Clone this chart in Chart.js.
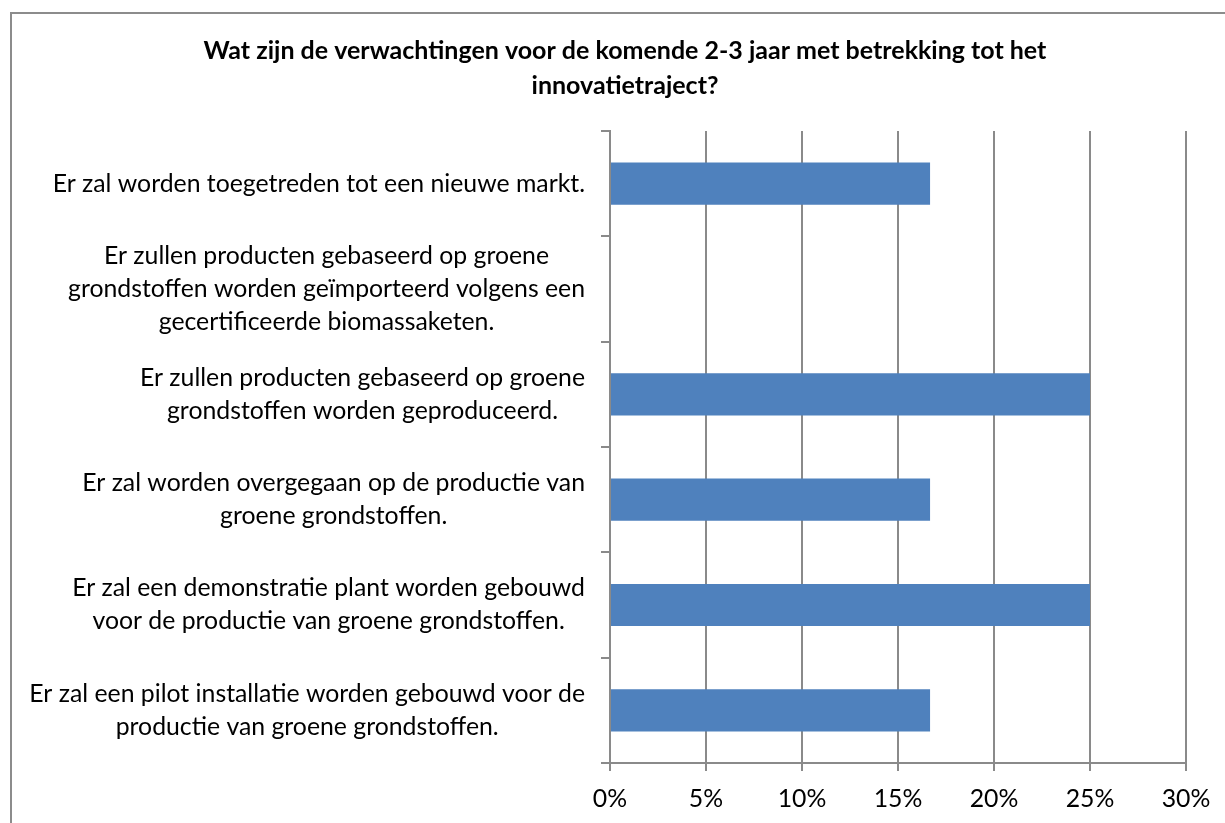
<!DOCTYPE html>
<html>
<head>
<meta charset="utf-8">
<script src="https://cdn.jsdelivr.net/npm/chart.js@4/dist/chart.umd.min.js"></script>
<style>
  html, body { margin: 0; padding: 0; background: #fff; }
  #wrap { position: absolute; left: 0; top: 0; width: 1225px; height: 823px; overflow: hidden; }
  #frame { position: absolute; left: 10px; top: 12px; width: 1400px; height: 1000px; border: 2px solid #8c8c8c; box-sizing: border-box; }
  canvas { position: absolute; left: 0; top: 0; }
</style>
</head>
<body>
<div id="wrap">
  <div id="frame"></div>
  <canvas id="c" width="1225" height="823"></canvas>
</div>
<script>
const titleLines = [
  "Wat zijn de verwachtingen voor de komende 2-3 jaar met betrekking tot het",
  "innovatietraject?"
];
const categories = [
  ["Er zal worden toegetreden tot een nieuwe markt."],
  ["Er zullen producten gebaseerd op groene", "grondstoffen worden geïmporteerd volgens een", "gecertificeerde biomassaketen."],
  ["Er zullen producten gebaseerd op groene", "grondstoffen worden geproduceerd."],
  ["Er zal worden overgegaan op de productie van", "groene grondstoffen."],
  ["Er zal een demonstratie plant worden gebouwd", "voor de productie van groene grondstoffen."],
  ["Er zal een pilot installatie worden gebouwd voor de", "productie van groene grondstoffen."]
];
const values = [16.67, 0, 25, 16.67, 25, 16.67];
const xMin = 0, xMax = 30, xStep = 5;

const FONT = "Lato, 'Open Sans', sans-serif";
const GRID = '#8a8a8a';

const customText = {
  id: 'customText',
  afterDraw(chart) {
    const ctx = chart.ctx;
    const y = chart.scales.y;
    ctx.save();
    ctx.fillStyle = '#000';
    // title
    ctx.font = "bold 25px " + FONT;
    ctx.textAlign = 'center';
    ctx.textBaseline = 'middle';
    ctx.fillText(titleLines[0], 625, 51);
    ctx.fillText(titleLines[1], 625, 86);
    // category labels
    ctx.font = "24.8px " + FONT;
    const lh = 33;
    const right = 585;
    categories.forEach((lines, i) => {
      const cy = y.getPixelForValue(i);
      let maxW = 0;
      lines.forEach(l => { maxW = Math.max(maxW, ctx.measureText(l).width); });
      const cx = right - maxW / 2;
      const y0 = cy - (lines.length - 1) * lh / 2;
      lines.forEach((l, k) => ctx.fillText(l, cx, y0 + k * lh));
    });
    ctx.restore();
  }
};

new Chart(document.getElementById('c'), {
  type: 'bar',
  data: {
    labels: categories.map(c => c.join(' ')),
    datasets: [{
      data: values,
      backgroundColor: '#4f81bd',
      borderWidth: 0,
      barPercentage: 0.4,
      categoryPercentage: 1.0
    }]
  },
  options: {
    indexAxis: 'y',
    responsive: false,
    animation: false,
    devicePixelRatio: 1,
    layout: { padding: { left: 0, right: 39, top: 131, bottom: 0 } },
    plugins: { legend: { display: false }, title: { display: false }, tooltip: { enabled: false } },
    scales: {
      x: {
        type: 'linear',
        min: xMin, max: xMax,
        ticks: {
          stepSize: xStep,
          callback: v => v + '%',
          color: '#000',
          font: { family: FONT, size: 24.8 },
          padding: 13
        },
        grid: { color: GRID, lineWidth: 2, tickLength: 8, drawTicks: true },
        border: { display: true, color: GRID, width: 2 },
        afterFit(s) { s.height = 60; }
      },
      y: {
        type: 'category',
        ticks: { display: false },
        grid: { offset: true, drawOnChartArea: false, drawTicks: true, tickLength: 9, color: GRID, lineWidth: 2 },
        border: { display: true, color: GRID, width: 2 },
        afterFit(s) { s.width = 610; }
      }
    }
  },
  plugins: [customText]
});
</script>
</body>
</html>
